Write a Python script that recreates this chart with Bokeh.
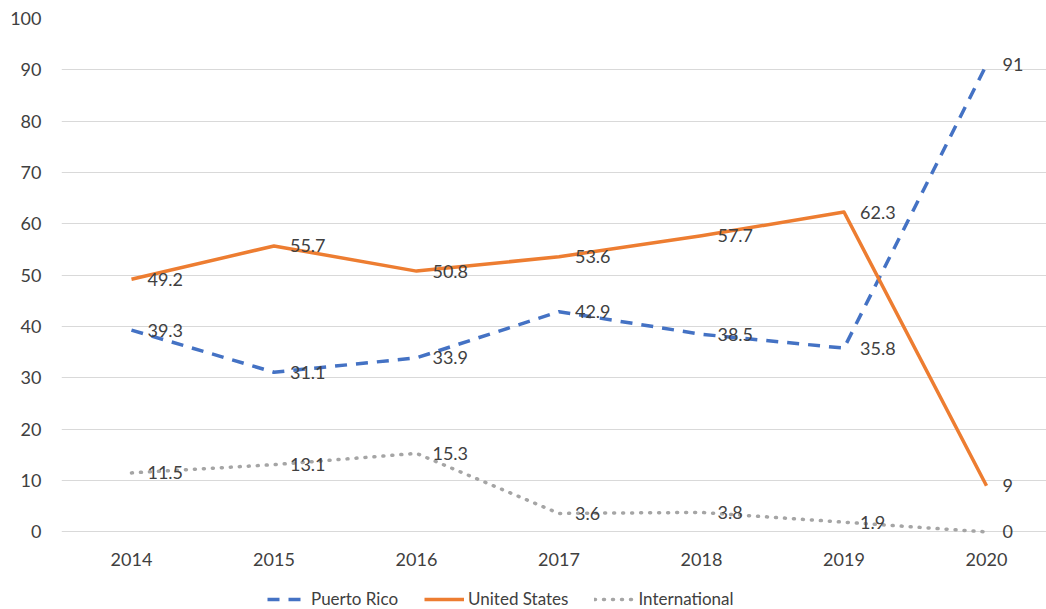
from bokeh.plotting import figure
from bokeh.models import ColumnDataSource, Legend, LegendItem, FixedTicker, Range1d
from bokeh.embed import file_html
from bokeh.resources import INLINE
from bokeh.core.properties import value

years = [2014, 2015, 2016, 2017, 2018, 2019, 2020]
puerto_rico = [39.3, 31.1, 33.9, 42.9, 38.5, 35.8, 91]
united_states = [49.2, 55.7, 50.8, 53.6, 57.7, 62.3, 9]
international = [11.5, 13.1, 15.3, 3.6, 3.8, 1.9, 0]
y_ticks = [0, 10, 20, 30, 40, 50, 60, 70, 80, 90, 100]

FONT = "Lato"
TXT = "#404040"

p = figure(frame_width=985, frame_height=591, output_backend="svg", toolbar_location=None,
           x_range=Range1d(2013.509, 2020.421), y_range=Range1d(-15.11, 100),
           min_border_left=61, min_border_right=0, min_border_top=18, min_border_bottom=0)
p.outline_line_color = None
p.background_fill_color = "white"
p.border_fill_color = "white"

p.xgrid.grid_line_color = None
p.ygrid.grid_line_color = "#d9d9d9"
p.ygrid.grid_line_width = 1
p.ygrid.ticker = FixedTicker(ticks=y_ticks)

for ax in (p.xaxis[0], p.yaxis[0]):
    ax.axis_line_color = None
    ax.major_tick_line_color = None
    ax.minor_tick_line_color = None
    ax.major_tick_out = 0
    ax.major_tick_in = 0
    ax.minor_tick_out = 0
    ax.major_label_text_font = FONT
    ax.major_label_text_font_size = "18px"
    ax.major_label_text_color = TXT

p.yaxis.ticker = FixedTicker(ticks=y_ticks)
p.yaxis.major_label_standoff = 20
p.xaxis.ticker = FixedTicker(ticks=years)
p.xaxis.fixed_location = 0
p.xaxis.major_label_standoff = 21

series = [
    ("Puerto Rico", puerto_rico, "#4472C4", "12 9", "butt"),
    ("United States", united_states, "#ED7D31", "solid", "butt"),
    ("International", international, "#A5A5A5", "1 8", "round"),
]

items = []
for name, vals, color, dash, cap in series:
    src = ColumnDataSource(dict(x=years, y=vals, lab=[f"{v:g}" for v in vals]))
    r = p.line("x", "y", source=src, line_color=color, line_width=3.5,
               line_dash=dash, line_cap=cap, line_join="round")
    items.append(LegendItem(label=name, renderers=[r]))

for name, vals, color, dash, cap in series:
    src = ColumnDataSource(dict(x=years, y=vals, lab=[f"{v:g}" for v in vals]))
    p.text("x", "y", text="lab", source=src, x_offset=16, text_align="left",
           text_baseline="middle", text_font=value(FONT), text_font_size="18px",
           text_color=TXT)

legend = Legend(items=items, orientation="horizontal", location=(206, 0),
                glyph_width=40, glyph_height=18, label_height=18, label_standoff=4, spacing=26,
                padding=0, margin=0, border_line_color=None, background_fill_alpha=0,
                label_text_font=FONT, label_text_font_size="17px", label_text_color=TXT)
p.add_layout(legend, "center")

open("out.html", "w").write(file_html(p, INLINE))
